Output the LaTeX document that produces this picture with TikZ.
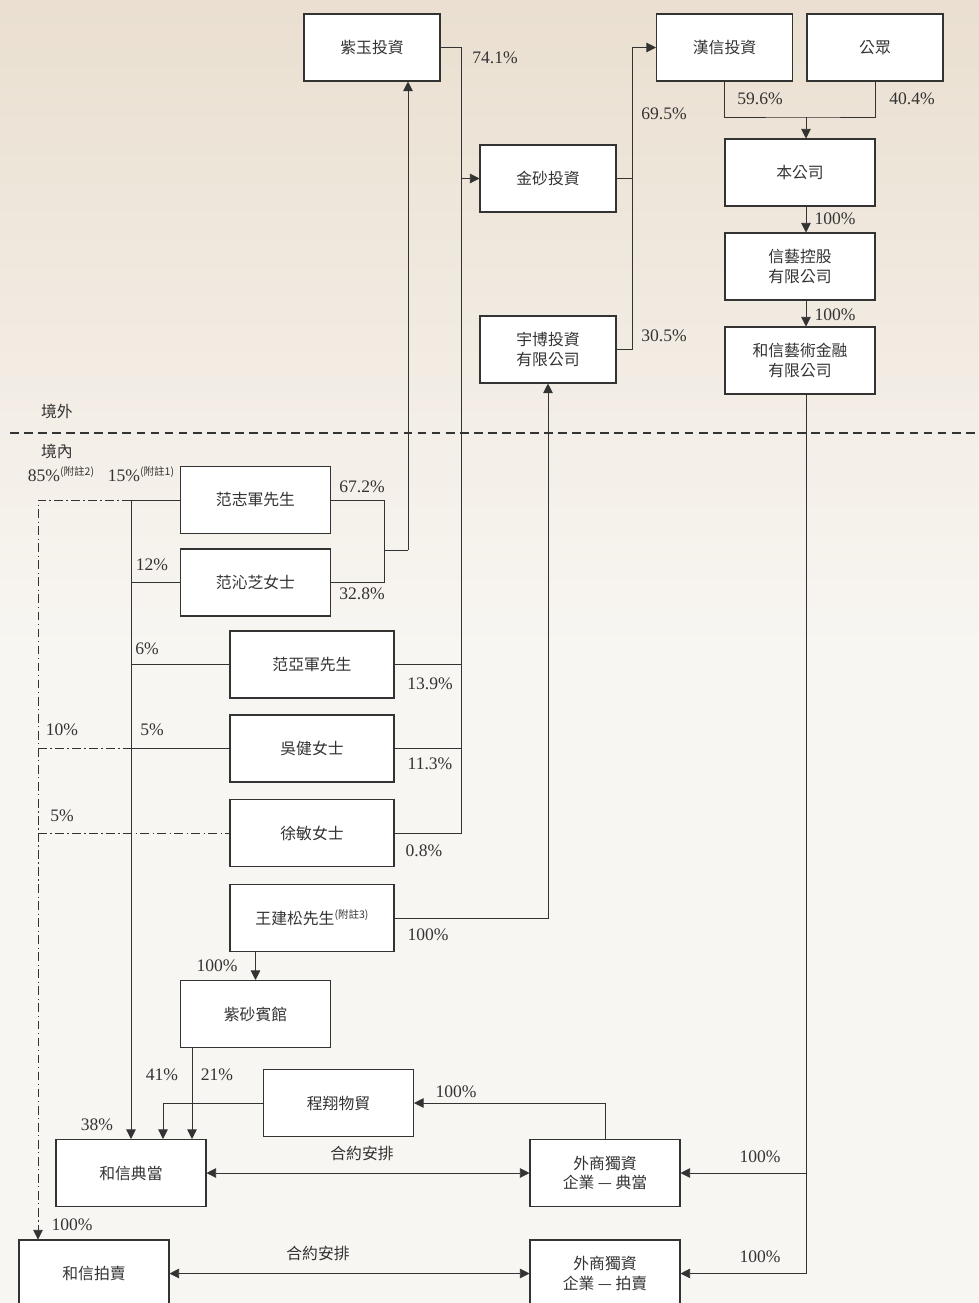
\documentclass[tikz,border=0pt]{standalone}
\usepackage{fontspec}
\setmainfont{Liberation Serif}
\newfontfamily\cjk{Noto Sans CJK TC}
\usetikzlibrary{arrows.meta}
\definecolor{ink}{HTML}{333333}
\definecolor{paperA}{HTML}{EADFD0}
\definecolor{paperB}{HTML}{F8F6F2}
\newcommand{\remarkno}[1]{\raisebox{0.7ex}{\cjk\fontsize{6}{6}\selectfont(#1)}}

\begin{document}
\begin{tikzpicture}[x=0.02cm, y=-0.02cm,
    every node/.style={text=ink},
    entity/.style={draw=ink, line width=0.6pt, fill=white, minimum height=1.34cm, inner sep=0pt, align=center, font=\cjk\fontsize{9}{11}\selectfont},
    narrow/.style={entity, minimum width=2.72cm},
    middle/.style={entity, minimum width=3cm},
    wide/.style={entity, minimum width=3.28cm},
    share/.style={inner sep=0pt, font=\fontsize{10}{12}\selectfont},
    note/.style={inner sep=0pt, font=\cjk\fontsize{9}{11}\selectfont},
    link/.style={draw=ink, line width=0.5pt},
    tip/.style={-{Triangle[length=5.5pt, width=5.5pt]}},
    arr/.style={link, tip},
    both/.style={link, {Triangle[length=5.5pt, width=5.5pt]}-{Triangle[length=5.5pt, width=5.5pt]}},
    trust/.style={link, dash pattern=on 5pt off 2pt on 0.7pt off 2pt}]
  \useasboundingbox (0,0) rectangle (979,1303);
  \fill[top color=paperA, bottom color=paperB] (0,0) rectangle (979,650);
  \fill[paperB] (0,650) rectangle (979,1303);

  \node[narrow] (ziyu) at (372,47.5) {紫玉投資};
  \node[narrow] (hanxin) at (724.5,47.5) {漢信投資};
  \node[narrow] (public) at (875,47.5) {公眾};
  \node[narrow] (jinsha) at (548,178.5) {金砂投資};
  \node[narrow] (yubo) at (548,349.5) {宇博投資\\有限公司};
  \node[middle] (company) at (800,172.5) {本公司};
  \node[middle] (xinyi) at (800,266.5) {信藝控股\\有限公司};
  \node[middle] (artfin) at (800,360.5) {和信藝術金融\\有限公司};
  \node[middle] (fanzj) at (255.5,500) {范志軍先生};
  \node[middle] (fanqz) at (255.5,582.5) {范沁芝女士};
  \node[wide] (fanyj) at (312,664.5) {范亞軍先生};
  \node[wide] (wujian) at (312,748.5) {吳健女士};
  \node[wide] (xumin) at (312,833) {徐敏女士};
  \node[wide] (wangjs) at (312,918) {王建松先生\remarkno{附註3}};
  \node[middle] (zisha) at (255.5,1014) {紫砂賓館};
  \node[middle] (chengxiang) at (338.5,1103) {程翔物貿};
  \node[middle] (pawn) at (131,1173) {和信典當};
  \node[middle] (wfoepawn) at (605,1173) {外商獨資\\企業 — 典當};
  \node[middle] (auction) at (94,1273.5) {和信拍賣};
  \node[middle] (wfoeauction) at (605,1273.5) {外商獨資\\企業 — 拍賣};

  \coordinate (trunk) at (461,0);
  \coordinate (mid) at (632,0);
  \coordinate (join) at (806,117);
  \coordinate (fan) at (384,550);
  \coordinate (rise) at (408,550);
  \coordinate (far) at (38,0);
  \coordinate (zsx) at (192,0);
  \coordinate (cx) at (163,0);

  \draw[ink, line width=1.4pt, dash pattern=on 5pt off 3pt] (10,433) -- (979,433);
  \node[note] (offshore) at (57,411) {境外};
  \node[note] (onshore) at (57,451) {境內};

  \draw[link] (ziyu.east) -| (trunk |- xumin.east) -- (xumin.east);
  \draw[link] (fanyj.east) -- (trunk |- fanyj.east);
  \draw[link] (wujian.east) -- (trunk |- wujian.east);
  \draw[arr] (trunk |- jinsha.west) -- (jinsha.west);
  \draw[arr] (yubo.east) -| (mid |- hanxin.west) -- (hanxin.west);
  \draw[link] (jinsha.east) -- (mid |- jinsha.east);
  \draw[link] (hanxin.south) |- (join) -| (public.south);
  \draw[arr] (join) -- (join |- company.north);
  \draw[arr] (join |- company.south) -- (join |- xinyi.north);
  \draw[arr] (join |- xinyi.south) -- (join |- artfin.north);
  \draw[link] (join |- artfin.south) -- (join |- wfoeauction.east);
  \draw[arr] (join |- wfoepawn.east) -- (wfoepawn.east);
  \draw[arr] (join |- wfoeauction.east) -- (wfoeauction.east);

  \draw[link] (fanzj.east) -| (fan |- fanqz.east) -- (fanqz.east);
  \draw[link] (fan) -- (rise);
  \draw[arr] (rise) -- (rise |- ziyu.south);
  \draw[arr] (fanzj.west) -| (pawn.north);
  \draw[link] (fanqz.west) -- (fanqz.west -| pawn.north);
  \draw[link] (fanyj.west) -- (fanyj.west -| pawn.north);
  \draw[link] (wujian.west) -- (wujian.west -| pawn.north);
  \draw[trust, tip] (fanzj.west -| pawn.north) -| (far |- auction.north);
  \draw[trust] (far |- wujian.west) -- (wujian.west -| pawn.north);
  \draw[trust] (far |- xumin.west) -- (xumin.west);

  \draw[arr] (wangjs.east) -| (yubo.south);
  \draw[arr] (wangjs.south -| zisha.north) -- (zisha.north);
  \draw[arr] (zisha.south -| zsx) -- (pawn.north -| zsx);
  \draw[arr] (chengxiang.west) -| (pawn.north -| cx);
  \draw[arr] (wfoepawn.north) |- (chengxiang.east);
  \draw[both] (pawn.east) -- (wfoepawn.west);
  \draw[both] (auction.east) -- (wfoeauction.west);

  \node[share] (s741) at (495,58) {74.1\%};
  \node[share] (s695) at (664,114) {69.5\%};
  \node[share] (s305) at (664,336) {30.5\%};
  \node[share] (s596) at (760,99) {59.6\%};
  \node[share] (s404) at (912,99) {40.4\%};
  \node[share] (s100a) at (835,219) {100\%};
  \node[share] (s100b) at (835,315) {100\%};
  \node[share] (s672) at (362,487) {67.2\%};
  \node[share] (s328) at (362,594) {32.8\%};
  \node[share] (s85) at (61,474) {85\%\remarkno{附註2}};
  \node[share] (s15) at (141,474) {15\%\remarkno{附註1}};
  \node[share] (s12) at (152,565) {12\%};
  \node[share] (s6) at (147,649) {6\%};
  \node[share] (s139) at (430,684) {13.9\%};
  \node[share] (s10) at (62,730) {10\%};
  \node[share] (s5a) at (152,730) {5\%};
  \node[share] (s113) at (430,764) {11.3\%};
  \node[share] (s5b) at (62,816) {5\%};
  \node[share] (s08) at (424,851) {0.8\%};
  \node[share] (s100c) at (428,935) {100\%};
  \node[share] (s100d) at (217,966) {100\%};
  \node[share] (s41) at (162,1075) {41\%};
  \node[share] (s21) at (217,1075) {21\%};
  \node[share] (s38) at (97,1125) {38\%};
  \node[share] (s100e) at (456,1092) {100\%};
  \node[note] (deal1) at (362,1153) {合約安排};
  \node[share] (s100f) at (760,1157) {100\%};
  \node[share] (s100g) at (72,1225) {100\%};
  \node[note] (deal2) at (318,1253) {合約安排};
  \node[share] (s100h) at (760,1257) {100\%};
\end{tikzpicture}
\end{document}
